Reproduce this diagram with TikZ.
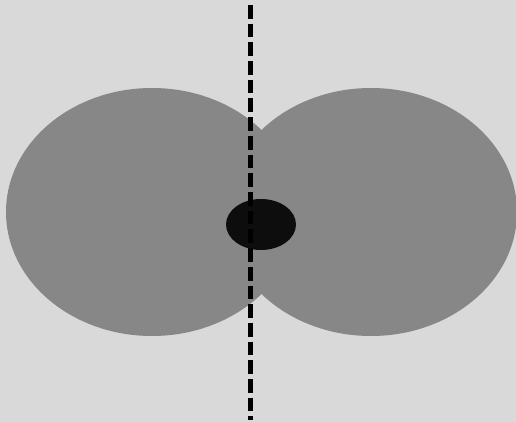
\documentclass[tikz,border=0pt]{standalone}
\usepackage{xcolor}
\usepackage{tikz}
\definecolor{corfundo}{RGB}{217,217,217}
\definecolor{corlobo}{RGB}{135,135,135}
\definecolor{cornucleo}{RGB}{13,13,13}

\begin{document}
\begin{tikzpicture}[
  x=1pt, y=-1pt,
  lobo/.style={fill=corlobo, draw=none},
  nucleo/.style={fill=cornucleo, draw=none},
  eixo/.style={draw=black, line width=4.5pt, dash pattern=on 13.7pt off 5pt}
]
  % fundo
  \fill[corfundo] (0,0) rectangle (516,422);
  \useasboundingbox (0,0) rectangle (516,422);

  % lobos
  \fill[lobo] (152,212) ellipse [x radius=146, y radius=124];
  \fill[lobo] (371,212) ellipse [x radius=146, y radius=124];

  % nucleo
  \fill[nucleo] (261,224.5) ellipse [x radius=35, y radius=25.5];

  % eixo tracejado
  \coordinate (topo) at (250.5,5);
  \coordinate (base) at (250.5,420);
  \draw[eixo] (topo) -- (base);
\end{tikzpicture}
\end{document}
